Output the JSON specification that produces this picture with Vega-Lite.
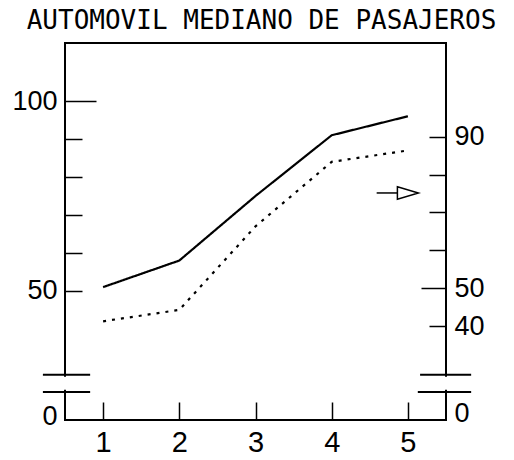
{
  "$schema": "https://vega.github.io/schema/vega-lite/v6.json",
  "width": 381,
  "height": 377,
  "autosize": "none",
  "padding": {"left": 65, "top": 43, "right": 68, "bottom": 40},
  "title": {
    "text": "AUTOMOVIL MEDIANO DE PASAJEROS",
    "font": "DejaVu Sans Mono",
    "fontSize": 26,
    "fontWeight": "normal",
    "color": "black",
    "baseline": "bottom",
    "offset": -17,
    "dx": 6
  },
  "config": {
    "view": {"stroke": "black", "strokeWidth": 2},
    "axis": {
      "domain": false,
      "grid": false,
      "title": null,
      "labelFont": "Liberation Sans",
      "labelColor": "black",
      "tickColor": "black",
      "tickWidth": 1.5
    }
  },
  "datasets": {
    "series": [
      {"x": 1, "v": 51, "s": "A"},
      {"x": 2, "v": 58, "s": "A"},
      {"x": 3, "v": 75, "s": "A"},
      {"x": 4, "v": 91, "s": "A"},
      {"x": 5, "v": 96, "s": "A"},
      {"x": 1, "v": 42, "s": "B"},
      {"x": 2, "v": 45, "s": "B"},
      {"x": 3, "v": 67, "s": "B"},
      {"x": 4, "v": 84, "s": "B"},
      {"x": 5, "v": 87, "s": "B"}
    ],
    "breaks": [
      {"x1": 0.21, "x2": 0.83, "y": 27.9},
      {"x1": 0.21, "x2": 0.83, "y": 23.4},
      {"x1": 5.16, "x2": 5.83, "y": 27.9},
      {"x1": 5.13, "x2": 5.83, "y": 23.4}
    ],
    "gap": [{"x1": 0.3, "x2": 5.7, "y1": 24.0, "y2": 27.4}],
    "arrow": [{"x1": 4.59, "x2": 4.86, "y": 75.8, "h": 5.0}]
  },
  "layer": [
    {
      "data": {"name": "gap"},
      "mark": {"type": "rect", "fill": "white", "stroke": null},
      "encoding": {
        "x": {"field": "x1", "type": "quantitative", "scale": {"domain": [0.5, 5.5], "nice": false, "zero": false},
          "axis": {"orient": "bottom", "values": [1, 2, 3, 4, 5], "tickSize": -18, "labelFontSize": 29, "labelPadding": 26}},
        "x2": {"field": "x2"},
        "y": {"field": "y1", "type": "quantitative", "scale": {"domain": [16, 115.3], "nice": false, "zero": false}, "axis": null},
        "y2": {"field": "y2"}
      }
    },
    {
      "data": {"name": "breaks"},
      "mark": {"type": "rule", "color": "black", "strokeWidth": 2},
      "encoding": {
        "x": {"field": "x1", "type": "quantitative", "scale": {"domain": [0.5, 5.5], "nice": false, "zero": false},
          "axis": {"orient": "bottom", "values": [1, 2, 3, 4, 5], "tickSize": -18, "labelFontSize": 29, "labelPadding": 26}},
        "x2": {"field": "x2"},
        "y": {
          "field": "y",
          "type": "quantitative",
          "scale": {"domain": [16, 115.3], "nice": false, "zero": false},
          "axis": {
            "orient": "right",
            "values": [17, 40, 50, 60, 70, 80, 90],
            "tickOffset": -2.5,
            "tickSize": {"condition": {"test": "datum.value == 50", "value": -25}, "value": -17},
            "tickOpacity": {"condition": {"test": "datum.value < 20", "value": 0}, "value": 1},
            "labelPadding": {"condition": {"test": "datum.value == 50", "value": 33}, "value": 25},
            "labelExpr": "datum.value == 90 ? '90' : datum.value == 50 ? '50' : datum.value == 40 ? '40' : datum.value < 20 ? '0' : ''",
            "labelFontSize": 27
          }
        }
      }
    },
    {
      "data": {"name": "series"},
      "mark": {"type": "line", "strokeWidth": 2.2, "color": "black", "strokeCap": "butt"},
      "encoding": {
        "x": {
          "field": "x",
          "type": "quantitative",
          "scale": {"domain": [0.5, 5.5], "nice": false, "zero": false},
          "axis": {"orient": "bottom", "values": [1, 2, 3, 4, 5], "tickSize": -18, "labelFontSize": 29, "labelPadding": 26}
        },
        "y": {
          "field": "v",
          "type": "quantitative",
          "scale": {"domain": [16, 115.3], "nice": false, "zero": false},
          "axis": {
            "orient": "left",
            "values": [17, 50, 60, 70, 80, 90, 100],
            "tickSize": {"condition": {"test": "datum.value == 100", "value": -31}, "value": -17},
            "tickOpacity": {"condition": {"test": "datum.value < 20", "value": 0}, "value": 1},
            "labelPadding": {"condition": {"test": "datum.value == 100", "value": 39}, "value": 25},
            "labelExpr": "datum.value == 100 ? '100' : datum.value == 50 ? '50' : datum.value < 20 ? '0' : ''",
            "labelFontSize": 27
          }
        },
        "strokeDash": {
          "field": "s",
          "type": "nominal",
          "scale": {"domain": ["A", "B"], "range": [[1, 0], [3, 6]]},
          "legend": null
        }
      }
    },
    {
      "data": {"name": "arrow"},
      "mark": {"type": "rule", "color": "black", "strokeWidth": 1.5},
      "encoding": {
        "x": {"field": "x1", "type": "quantitative", "scale": {"domain": [0.5, 5.5], "nice": false, "zero": false},
          "axis": {"orient": "bottom", "values": [1, 2, 3, 4, 5], "tickSize": -18, "labelFontSize": 29, "labelPadding": 26}},
        "x2": {"field": "x2"},
        "y": {"field": "y", "type": "quantitative", "scale": {"domain": [16, 115.3], "nice": false, "zero": false}, "axis": null}
      }
    },
    {
      "data": {"name": "arrow"},
      "mark": {"type": "point", "shape": "M -1 -0.6 L 1 0 L -1 0.6 Z", "size": 441, "filled": false, "opacity": 1, "stroke": "black", "strokeWidth": 1.5},
      "encoding": {
        "x": {"field": "h", "type": "quantitative", "scale": {"domain": [0.5, 5.5], "nice": false, "zero": false},
          "axis": {"orient": "bottom", "values": [1, 2, 3, 4, 5], "tickSize": -18, "labelFontSize": 29, "labelPadding": 26}},
        "y": {"field": "y", "type": "quantitative", "scale": {"domain": [16, 115.3], "nice": false, "zero": false}, "axis": null}
      }
    }
  ],
  "resolve": {"axis": {"y": "independent"}}
}
